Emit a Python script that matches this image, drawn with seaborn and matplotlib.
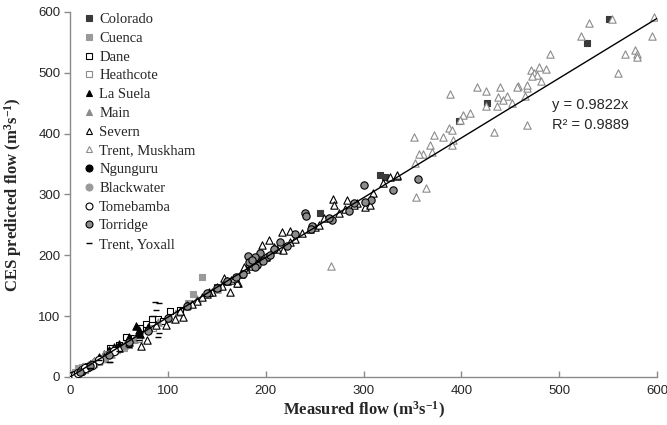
import matplotlib
matplotlib.use("Agg")
import matplotlib.pyplot as plt
from matplotlib.lines import Line2D
import numpy as np
import pandas as pd
import seaborn as sns

# Measured vs CES-predicted discharge (m3/s) for each river reach
colorado_x = [551, 528, 426, 398, 317, 322, 256, 5, 12, 20, 30, 45, 60, 80, 150, 190,
              8, 16, 25, 35, 52, 70]
colorado_y = [588, 549, 451, 420, 332, 329, 269, 4, 10, 18, 28, 42, 58, 78, 148, 190,
              7, 14, 22, 31, 48, 68]

cuenca_x = [135, 126, 121, 8, 15, 25, 40, 55, 65, 110, 5, 30, 3, 12, 48, 60]
cuenca_y = [164, 137, 122, 14, 18, 22, 38, 48, 60, 105, 8, 25, 5, 16, 45, 52]

dane_x = [102, 90, 78, 57, 41, 112, 20, 30, 10, 65, 50, 95, 84, 72]
dane_y = [109, 96, 87, 66, 47, 110, 18, 27, 8, 64, 52, 92, 95, 80]

heathcote_x = [60, 85, 45, 70, 100, 35, 15, 120, 25]
heathcote_y = [58, 80, 42, 62, 95, 32, 12, 115, 22]

lasuela_x = [67, 70, 72, 5, 10, 20, 30, 40, 50, 60, 80, 1, 15, 25, 35, 45]
lasuela_y = [84, 78, 70, 4, 9, 22, 33, 45, 55, 65, 82, 1, 16, 27, 38, 49]

main_x = [2, 5, 8, 12, 18, 25, 35, 45, 55, 65, 90, 130, 150, 22, 30, 42]
main_y = [3, 5, 10, 13, 20, 26, 37, 44, 52, 62, 90, 128, 145, 21, 28, 38]

severn_x = [73, 79, 98, 164, 172, 157, 107, 115, 269, 283, 270, 281, 293, 302, 307,
            334, 327, 217, 225, 237, 203, 196, 208, 218, 225, 171, 10, 20, 35, 50,
            60, 88, 120, 130, 140, 150, 180, 185, 200, 250, 260, 320, 334, 145, 165,
            112, 125, 135, 142, 155, 160, 168, 175, 178, 186, 190, 195, 212, 230, 245,
            255, 275, 290, 310]
severn_y = [51, 60, 86, 140, 154, 163, 95, 98, 293, 291, 283, 276, 286, 280, 283,
            330, 329, 239, 240, 237, 225, 217, 214, 209, 222, 155, 10, 19, 33, 48,
            58, 85, 118, 125, 137, 148, 178, 185, 198, 246, 262, 318, 332, 140, 160,
            108, 120, 131, 139, 150, 158, 163, 170, 180, 183, 188, 193, 210, 226, 243,
            250, 270, 282, 303]

muskham_x = [597, 595, 531, 522, 554, 567, 578, 580, 580, 560, 491, 487, 479, 471,
             474, 477, 472, 481, 467, 467, 458, 457, 465, 388, 416, 425, 440, 437,
             447, 443, 452, 436, 425, 467, 433, 409, 402, 399, 387, 390, 352, 372,
             381, 391, 390, 368, 370, 361, 357, 353, 364, 354, 267]
muskham_y = [592, 561, 582, 560, 588, 531, 537, 530, 526, 500, 531, 506, 510, 505,
             500, 496, 494, 486, 475, 480, 478, 476, 461, 465, 477, 470, 476, 460,
             462, 455, 450, 446, 446, 414, 402, 434, 431, 423, 409, 406, 394, 398,
             395, 390, 382, 382, 370, 367, 367, 352, 311, 296, 183]

ngunguru_x = [0.5, 1, 2, 3, 4, 1.5, 6]
ngunguru_y = [0.5, 1, 2, 2.5, 3.5, 2, 5]

blackwater_x = [10, 15, 20, 28, 40, 25, 35]
blackwater_y = [12, 14, 20, 26, 38, 24, 30]

tomebamba_x = [2, 5, 8, 12, 18, 22, 15, 30, 45]
tomebamba_y = [1, 4, 7, 11, 16, 20, 14, 28, 42]

torridge_x = [356, 330, 301, 308, 302, 285, 240, 241, 247, 246, 268, 265, 230, 215,
              208, 201, 194, 189, 182, 191, 189, 177, 183, 170, 160, 150, 140, 120,
              100, 80, 60, 40, 20, 10, 186, 197, 204, 222, 290]
torridge_y = [326, 308, 316, 291, 288, 273, 270, 265, 248, 243, 258, 261, 235, 222,
              210, 197, 204, 197, 199, 184, 181, 169, 189, 165, 158, 147, 138, 116,
              97, 75, 57, 36, 18, 8, 192, 190, 200, 215, 286]

yoxall_x = [91, 88, 90, 40, 85, 70, 60, 30, 20, 50, 87, 91, 41]
yoxall_y = [122, 110, 66, 25, 100, 60, 50, 28, 15, 42, 123, 72, 25]

slope = 0.9822
r_squared = 0.9889

series = [
    # name, x, y, marker, face, edge, size
    ("Colorado", colorado_x, colorado_y, "s", "#3a3a3a", "#3a3a3a", 24),
    ("Cuenca", cuenca_x, cuenca_y, "s", "#9a9a9a", "#9a9a9a", 24),
    ("Dane", dane_x, dane_y, "s", "white", "black", 24),
    ("Heathcote", heathcote_x, heathcote_y, "s", "white", "#8c8c8c", 24),
    ("La Suela", lasuela_x, lasuela_y, "^", "black", "black", 28),
    ("Main", main_x, main_y, "^", "#8c8c8c", "#8c8c8c", 28),
    ("Severn", severn_x, severn_y, "^", "white", "black", 28),
    ("Trent, Muskham", muskham_x, muskham_y, "^", "white", "#8c8c8c", 28),
    ("Ngunguru", ngunguru_x, ngunguru_y, "o", "black", "black", 24),
    ("Blackwater", blackwater_x, blackwater_y, "o", "#9a9a9a", "#9a9a9a", 24),
    ("Tomebamba", tomebamba_x, tomebamba_y, "o", "white", "black", 36),
    ("Torridge", torridge_x, torridge_y, "o", "#8c8c8c", "black", 28),
    ("Trent, Yoxall", yoxall_x, yoxall_y, "_", "black", "black", 24),
]

sns.set_style("white")
plt.rcParams["mathtext.fontset"] = "custom"
plt.rcParams["mathtext.rm"] = "Liberation Serif:bold"
plt.rcParams["mathtext.bf"] = "Liberation Serif:bold"
plt.rcParams["mathtext.it"] = "Liberation Serif:bold"

fig = plt.figure(figsize=(6.67, 4.25), dpi=100)
ax = fig.add_axes([0.105, 0.113, 0.88, 0.859])

handles = []
for name, xs, ys, mk, face, edge, sz in series:
    df = pd.DataFrame({"x": xs, "y": ys})
    if mk == "_":
        sns.scatterplot(data=df, x="x", y="y", marker="_", s=sz, color=face,
                        linewidth=1.0, ax=ax, legend=False, zorder=3)
    else:
        sns.scatterplot(data=df, x="x", y="y", marker=mk, s=sz, color=face,
                        edgecolor=edge, linewidth=0.8, ax=ax, legend=False, zorder=3)
    handles.append(Line2D([], [], linestyle="none", marker=mk,
                          markersize=4.5 if mk != "o" else 5,
                          markerfacecolor=face, markeredgecolor=edge,
                          markeredgewidth=0.8 if mk != "_" else 1.0,
                          color=edge, label=name))

# Fitted line through the origin
fit_x = np.array([0, 600])
sns.lineplot(x=fit_x, y=slope * fit_x, color="black", linewidth=1.0, ax=ax, zorder=4)

ax.text(493, 447, f"y = {slope}x", fontsize=10.5, family="Liberation Sans",
        va="center", ha="left")
ax.text(493, 414, f"R² = {r_squared}", fontsize=10.5, family="Liberation Sans",
        va="center", ha="left")

ax.set_xlim(0, 600)
ax.set_ylim(0, 600)
ax.set_xticks(range(0, 601, 100))
ax.set_yticks(range(0, 601, 100))
for side in ("top", "right"):
    ax.spines[side].set_visible(False)
for side in ("left", "bottom"):
    ax.spines[side].set_color("#8a8a8a")
    ax.spines[side].set_linewidth(1.0)

ax.tick_params(axis="y", direction="out", length=4, color="#8a8a8a", width=1,
               labelsize=9.5, pad=3)
ax.tick_params(axis="x", direction="in", length=4, color="#8a8a8a", width=1,
               labelsize=9.5, pad=6)
ax.tick_params(left=True, bottom=True)
for lab in ax.get_xticklabels() + ax.get_yticklabels():
    lab.set_family("Liberation Sans")

ax.set_xlabel(r"Measured flow (m$^{3}$s$^{-1}$)", fontsize=12, fontweight="bold",
              family="Liberation Serif", labelpad=2)
ax.set_ylabel(r"CES predicted flow (m$^{3}$s$^{-1}$)", fontsize=12, fontweight="bold",
              family="Liberation Serif", labelpad=10)

leg = ax.legend(handles=handles, loc="upper left", frameon=False,
                bbox_to_anchor=(0.0, 1.025), handletextpad=0.1, handlelength=1.2,
                labelspacing=0.38, borderaxespad=0.3,
                prop={"family": "Liberation Serif", "size": 10.5})

fig.savefig("out.png", dpi=100, facecolor="white")
